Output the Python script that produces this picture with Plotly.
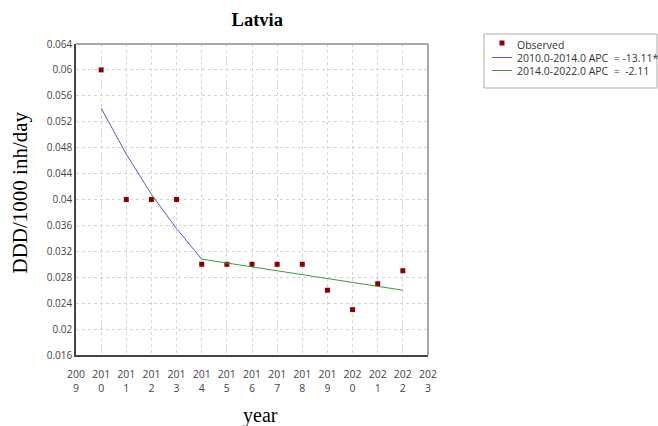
import plotly.graph_objects as go

years = [2010, 2011, 2012, 2013, 2014, 2015, 2016, 2017, 2018, 2019, 2020, 2021, 2022]
observed = [0.06, 0.04, 0.04, 0.04, 0.03, 0.03, 0.03, 0.03, 0.03, 0.026, 0.023, 0.027, 0.029]

seg1_years = [2010, 2011, 2012, 2013, 2014]
seg1_fit = [0.0541, 0.0470, 0.0408, 0.0355, 0.0308]
seg2_years = [2014, 2015, 2016, 2017, 2018, 2019, 2020, 2021, 2022]
seg2_fit = [0.0308, 0.0302, 0.0295, 0.0289, 0.0283, 0.0277, 0.0271, 0.0265, 0.0260]

legend_labels = ["Observed", "2010.0-2014.0 APC  = -13.11*", "2014.0-2022.0 APC  =  -2.11"]

x_ticks = list(range(2009, 2024))
x_ticktext = [f"{str(y)[:3]}<br>{str(y)[3]}" for y in x_ticks]
y_ticks = [0.016, 0.02, 0.024, 0.028, 0.032, 0.036, 0.04, 0.044, 0.048, 0.052, 0.056, 0.06, 0.064]
y_ticktext = ["0.016", "0.02", "0.024", "0.028", "0.032", "0.036", "0.04", "0.044",
              "0.048", "0.052", "0.056", "0.06", "0.064"]

MARK = "#8B0000"
BLUE = "#5A5ACD"
GREEN = "#3C9A3C"

fig = go.Figure()
fig.add_trace(go.Scatter(x=years, y=observed, mode="markers", name=legend_labels[0],
                         marker=dict(symbol="square", size=5, color=MARK)))
fig.add_trace(go.Scatter(x=seg1_years, y=seg1_fit, mode="lines", name=legend_labels[1],
                         line=dict(color=BLUE, width=1)))
fig.add_trace(go.Scatter(x=seg2_years, y=seg2_fit, mode="lines", name=legend_labels[2],
                         line=dict(color=GREEN, width=1)))

# plot area: px 76..428 horizontally, 44..355 vertically
def px(xp):
    return (xp - 76) / 352.0

def py(yp):
    return (355 - yp) / 311.0

shapes = [
    dict(type="rect", xref="paper", yref="paper", x0=px(484), x1=px(657), y0=py(88), y1=py(34),
         line=dict(color="#aaaaaa", width=1), fillcolor="white", layer="above"),
    dict(type="rect", xref="paper", yref="paper", x0=px(499.5), x1=px(504.5), y0=py(45.5), y1=py(40.5),
         line=dict(width=0), fillcolor=MARK, layer="above"),
    dict(type="line", xref="paper", yref="paper", x0=px(492), x1=px(512), y0=py(57.5), y1=py(57.5),
         line=dict(color=BLUE, width=1), layer="above"),
    dict(type="line", xref="paper", yref="paper", x0=px(492), x1=px(512), y0=py(70.5), y1=py(70.5),
         line=dict(color=GREEN, width=1), layer="above"),
    # lighter top / right frame
    dict(type="line", xref="paper", yref="paper", x0=0, x1=1, y0=1, y1=1,
         line=dict(color="#8a8a8a", width=1.5), layer="above"),
    dict(type="line", xref="paper", yref="paper", x0=1, x1=1, y0=0, y1=1,
         line=dict(color="#8a8a8a", width=1.5), layer="above"),
]
annotations = []
for i, (lab, yy) in enumerate(zip(legend_labels, [45, 58, 71])):
    annotations.append(dict(text=lab, xref="paper", yref="paper", x=px(515), y=py(yy),
                            xanchor="left", yanchor="middle", showarrow=False,
                            font=dict(family="Open Sans", size=10.5, color="#333333")))
annotations.append(dict(text="DDD/1000 inh/day", xref="paper", yref="paper", x=px(19), y=py(192.5),
                        xanchor="center", yanchor="middle", textangle=-90, showarrow=False,
                        font=dict(family="Liberation Serif", size=21, color="black")))
annotations.append(dict(text="year", xref="paper", yref="paper", x=px(260), y=py(415),
                        xanchor="center", yanchor="middle", showarrow=False,
                        font=dict(family="Liberation Serif", size=20, color="black")))

fig.update_layout(
    width=658, height=426,
    margin=dict(l=76, r=230, t=44, b=71, autoexpand=False),
    paper_bgcolor="white", plot_bgcolor="white",
    title=dict(text="<b>Latvia</b>", x=0.391, xanchor="center", y=0.953, yanchor="middle",
               font=dict(family="Liberation Serif", size=18.5, color="black")),
    font=dict(family="Open Sans", size=10, color="#444444"),
    xaxis=dict(range=[2009, 2023], tickvals=x_ticks, ticktext=x_ticktext,
               showgrid=True, gridcolor="#d4d4d4", griddash="dot", gridwidth=1,
               showline=True, linecolor="#444444", linewidth=1.5, mirror=False,
               ticks="", zeroline=False, tickfont=dict(size=10.5, color="#444444"),
               ticklabelstandoff=9, automargin=False),
    yaxis=dict(range=[0.016, 0.064], tickvals=y_ticks, ticktext=y_ticktext,
               showgrid=True, gridcolor="#d4d4d4", griddash="dot", gridwidth=1,
               showline=True, linecolor="#444444", linewidth=1.5, mirror=False,
               ticks="", zeroline=False, tickfont=dict(size=10, color="#444444"),
               automargin=False),
    shapes=shapes,
    annotations=annotations,
    showlegend=False,
)

fig.write_html("out.html")
